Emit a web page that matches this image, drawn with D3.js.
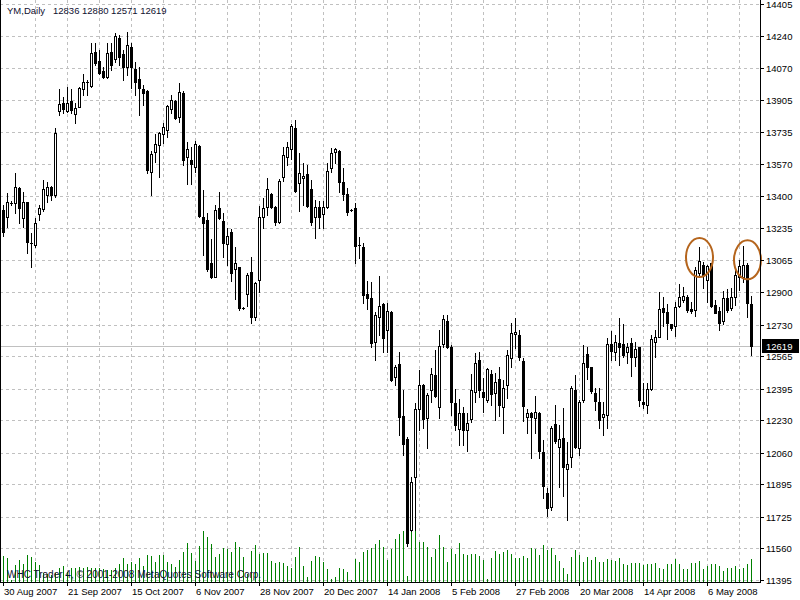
<!DOCTYPE html>
<html>
<head>
<meta charset="utf-8">
<script src="https://cdn.jsdelivr.net/npm/d3@7"></script>
<style>
html,body{margin:0;padding:0;background:#fff;}
svg{display:block;}
text{font-family:"Liberation Sans",Arial,sans-serif;}
</style>
</head>
<body>
<svg id="chart" width="800" height="600"></svg>
<script>
// ---------- DATA ----------
const symbol = "YM,Daily";
const lastBar = [12836, 12880, 12571, 12619];

const opens = [13329,13292,13367,13365,13444,13287,13370,13156,13146,13308,
13334,13407,13449,13407,13846,13888,13846,13898,13830,13867,
13961,13998,13977,14154,14107,14055,14024,14154,14118,14227,
14144,14076,14180,14065,14013,13961,13950,13527,13632,13668,
13726,13747,13856,13898,13815,13940,13606,13590,13553,13663,
13292,13276,13052,12978,13339,13271,13151,13214,13020,13031,
12816,12890,13005,12769,12963,13292,13344,13412,13344,13266,
13501,13606,13647,13757,13470,13496,13517,13438,13292,13344,
13308,13344,13548,13632,13637,13475,13412,13329,13339,13146,
13135,12890,12869,12639,12769,12837,12702,12796,12456,12524,
12252,12132,11656,11933,12289,12414,12242,12388,12466,12299,
12629,12749,12613,12320,12184,12268,12179,12236,12378,12545,
12378,12336,12472,12372,12446,12299,12414,12555,12681,12675,
12540,12247,12268,12242,12268,12064,11850,11777,12210,12090,
12137,11975,12038,12388,12085,12336,12576,12508,12372,12325,
12247,12257,12629,12587,12634,12629,12587,12634,12560,12613,
12325,12310,12393,12639,12665,12816,12796,12733,12722,12827,
12859,12874,12811,12806,12999,13041,12963,13052,12832,12801,
12749,12869,12816,12874,12978,12978,13041,12836];

const highs = [13355,13417,13375,13522,13449,13423,13372,13208,13287,13355,
13485,13475,13454,13757,13961,13919,13971,13961,13888,13971,
14039,14008,14201,14201,14165,14076,14201,14201,14254,14243,
14165,14259,14201,14102,14076,13982,13956,13637,13726,13736,
13783,13877,13930,13903,13992,13950,13684,13658,13689,13668,
13433,13313,13177,13355,13423,13313,13235,13229,13135,13033,
12822,12999,13083,12952,13350,13391,13496,13417,13350,13491,
13658,13684,13778,13799,13626,13574,13564,13485,13381,13376,
13376,13574,13653,13653,13642,13548,13444,13334,13365,13187,
13156,12958,12952,12796,12984,12843,12843,12801,12519,12587,
12388,12142,11933,12320,12493,12419,12372,12503,12597,12702,
12780,12780,12623,12393,12341,12299,12268,12472,12581,12587,
12451,12503,12493,12477,12508,12440,12597,12738,12764,12702,
12555,12289,12273,12357,12273,12127,11876,12200,12310,12205,
12294,12116,12409,12466,12336,12623,12613,12510,12398,12398,
12325,12660,12696,12675,12764,12733,12634,12660,12639,12615,
12425,12425,12675,12702,12900,12874,12837,12735,12848,12942,
12926,12884,12848,13031,13135,13057,13041,13054,12859,12822,
12905,12916,12921,13031,13067,13140,13052,12880];

const lows = [13193,13240,13355,13313,13261,13240,13104,13031,13135,13276,
13323,13370,13381,13396,13825,13835,13841,13835,13783,13865,
13930,13930,13971,14086,14040,14020,14018,14060,14102,14086,
14008,14034,13966,13930,13825,13877,13522,13407,13579,13501,
13679,13710,13835,13804,13788,13564,13464,13464,13527,13292,
13093,13010,12973,12976,13282,13083,13041,12958,12863,12806,
12810,12827,12738,12754,12900,13235,13302,13339,13250,13261,
13480,13564,13595,13423,13323,13355,13344,13250,13182,13235,
13235,13339,13527,13574,13423,13381,13302,13323,13052,13078,
12843,12811,12613,12545,12675,12587,12587,12435,12414,12153,
12048,11573,11651,11656,12179,12189,12085,12325,12351,12242,
12613,12607,12257,12179,12101,12101,12069,12221,12325,12351,
12273,12325,12310,12231,12252,12163,12346,12508,12607,12545,
12226,12163,12033,12163,12033,11824,11730,11761,12111,11881,
11834,11709,11986,12085,12048,12325,12446,12372,12284,12189,
12153,12189,12545,12545,12519,12560,12529,12461,12513,12304,
12294,12268,12388,12560,12663,12722,12655,12702,12670,12822,
12848,12796,12790,12775,12978,12921,12848,12822,12788,12702,
12733,12796,12806,12832,12911,12952,12769,12571];

const closes = [13214,13370,13366,13449,13339,13370,13161,13154,13261,13339,
13438,13449,13407,13731,13882,13856,13888,13851,13862,13966,
13998,13996,14149,14097,14045,14024,14149,14086,14238,14128,
14076,14191,14076,13998,13966,13940,13538,13621,13673,13731,
13762,13872,13903,13809,13945,13590,13647,13569,13673,13297,
13261,13020,12978,13329,13287,13156,13193,12999,13052,12816,
12814,12989,12769,12947,13292,13339,13438,13344,13266,13480,
13616,13658,13768,13428,13522,13506,13350,13266,13344,13292,
13344,13532,13626,13647,13475,13412,13318,13327,13140,13144,
12884,12869,12634,12780,12827,12660,12801,12440,12508,12247,
12106,11588,11907,12289,12414,12236,12362,12472,12357,12618,
12759,12613,12325,12205,12268,12179,12215,12388,12529,12388,
12351,12498,12367,12430,12310,12398,12571,12686,12691,12560,
12304,12268,12247,12273,12069,11886,11771,12189,12121,12132,
11986,12001,12398,12090,12325,12529,12508,12383,12331,12231,
12263,12629,12592,12639,12613,12571,12613,12560,12602,12336,
12315,12393,12655,12665,12811,12796,12738,12712,12822,12874,
12879,12806,12801,13015,13062,12989,13036,12827,12790,12738,
12869,12806,12874,12989,13036,13041,12843,12619];

const volumes = [26,24,2,17,22,18,27,25,20,17,
9,8,7,9,14,16,10,14,14,15,
14,15,14,14,14,13,12,12,14,18,
24,18,20,18,24,16,27,26,20,27,
27,20,18,15,22,30,39,29,21,36,
51,45,38,25,28,34,33,30,40,35,
25,8,31,37,28,29,29,21,19,20,
19,16,14,25,35,16,5,21,26,25,
20,13,3,5,14,13,10,2,23,20,
30,32,34,38,42,35,22,33,43,48,
51,6,71,61,40,40,35,25,33,47,
35,20,33,28,39,28,27,28,28,26,
22,3,24,31,28,30,32,28,24,24,
26,24,34,33,27,37,32,34,27,21,
14,8,25,32,27,20,25,22,25,20,
20,23,22,21,24,18,17,19,19,19,
17,18,18,19,14,13,18,18,23,18,
13,13,19,19,21,13,16,18,18,16,
11,14,14,16,13,14,18,23];

const priceTicks = [14405,14240,14070,13905,13735,13570,13400,13235,13065,12900,
12730,12565,12395,12230,12060,11895,11725,11560,11395];

const dateLabels = ["30 Aug 2007","21 Sep 2007","15 Oct 2007","6 Nov 2007","28 Nov 2007",
"20 Dec 2007","14 Jan 2008","5 Feb 2008","27 Feb 2008","20 Mar 2008","14 Apr 2008","6 May 2008"];
const dateLabelBars = [0,16,32,48,64,80,96,112,128,144,160,176];

// circled highs (bar index, price at centre)
const marks = [{bar:174, price:13080},{bar:186, price:13068}];

// ---------- DRAW ----------
const W = 800, H = 600;
const plotRight = 760, plotBottom = 582;
const svg = d3.select("#chart");
svg.append("rect").attr("width",W).attr("height",H).attr("fill","#fff");

const n = opens.length;
const x = d3.scaleLinear().domain([0, n-1]).range([3, 3 + 4*(n-1)]);
const y = d3.scaleLinear().domain([11395, 14405]).range([580, 4]);
const vol = d3.scaleLinear().domain([0, 100]).range([0, 100]);
const px = i => Math.round(x(i));
const py = v => Math.round(y(v));

const gridColor = "#c0c0c0";
// vertical grid
const g = svg.append("g").attr("shape-rendering","crispEdges");
const vgrid = d3.range(1, 24).map(k => 3 + 32*k);
g.selectAll("line.vg").data(vgrid).join("line")
  .attr("x1", d=>d+0.5).attr("x2", d=>d+0.5)
  .attr("y1", 0).attr("y2", plotBottom)
  .attr("stroke", gridColor).attr("stroke-dasharray","3,3");
// horizontal grid
g.selectAll("line.hg").data(priceTicks).join("line")
  .attr("x1", 0).attr("x2", plotRight)
  .attr("y1", d=>py(d)+0.5).attr("y2", d=>py(d)+0.5)
  .attr("stroke", gridColor).attr("stroke-dasharray","3,3");

// current price line
svg.append("line").attr("x1",0).attr("x2",plotRight)
  .attr("y1", py(lastBar[3])+0.5).attr("y2", py(lastBar[3])+0.5)
  .attr("stroke","#c0c0c0").attr("shape-rendering","crispEdges");

// volumes
svg.append("g").attr("shape-rendering","crispEdges")
  .selectAll("line").data(volumes).join("line")
  .attr("x1",(d,i)=>px(i)+0.5).attr("x2",(d,i)=>px(i)+0.5)
  .attr("y1", 582).attr("y2", d=>582 - Math.round(vol(d)))
  .attr("stroke","#008000");

// copyright text
svg.append("text").attr("x",7).attr("y",578)
  .attr("font-size","10px").attr("fill","#101030")
  .text("WHC Trader 4, \u00A9 2001-2008 MetaQuotes Software Corp.");

// candles
const idx = d3.range(n);
const cg = svg.append("g").attr("shape-rendering","crispEdges");
cg.selectAll("line.wick").data(idx).join("line")
  .attr("x1", i=>px(i)+0.5).attr("x2", i=>px(i)+0.5)
  .attr("y1", i=>py(highs[i])).attr("y2", i=>py(lows[i])+1)
  .attr("stroke","#000");
idx.forEach(i => {
  const o = opens[i], c = closes[i];
  const top = py(Math.max(o,c)), bot = py(Math.min(o,c));
  const cx = px(i);
  if (bot - top < 1) {
    cg.append("line").attr("x1", cx-1).attr("x2", cx+2)
      .attr("y1", top+0.5).attr("y2", top+0.5).attr("stroke","#000");
  } else {
    cg.append("rect").attr("x", cx-0.5).attr("y", top+0.5)
      .attr("width", 2).attr("height", bot-top)
      .attr("fill", c >= o ? "#fff" : "#000").attr("stroke","#000");
  }
});

// circled marks
svg.append("g").selectAll("ellipse").data(marks).join("ellipse")
  .attr("cx", d=>px(d.bar)+0.5).attr("cy", d=>y(d.price))
  .attr("rx", 13.5).attr("ry", 19.5)
  .attr("fill","none").attr("stroke","#b5651d").attr("stroke-width",2);

// frame
const fg = svg.append("g").attr("shape-rendering","crispEdges");
fg.append("line").attr("x1",0.5).attr("x2",0.5).attr("y1",0).attr("y2",plotBottom+0.5).attr("stroke","#000");
fg.append("line").attr("x1",plotRight+0.5).attr("x2",plotRight+0.5).attr("y1",0).attr("y2",plotBottom+0.5).attr("stroke","#000");
fg.append("line").attr("x1",0).attr("x2",plotRight+1).attr("y1",plotBottom+0.5).attr("y2",plotBottom+0.5).attr("stroke","#000");

// right axis
const ra = svg.append("g");
ra.selectAll("line").data(priceTicks).join("line")
  .attr("x1", plotRight).attr("x2", plotRight+4)
  .attr("y1", d=>py(d)+0.5).attr("y2", d=>py(d)+0.5).attr("stroke","#000")
  .attr("shape-rendering","crispEdges");
ra.selectAll("text").data(priceTicks).join("text")
  .attr("x", plotRight+6).attr("y", d=>py(d)+4)
  .attr("font-size","9.5px").attr("fill","#000")
  .text(d=>d);

// current price label
const ly = py(lastBar[3]);
svg.append("rect").attr("x", plotRight+2).attr("y", ly-7).attr("width", 37).attr("height", 14).attr("fill","#000");
svg.append("text").attr("x", plotRight+6).attr("y", ly+4)
  .attr("font-size","9.5px").attr("fill","#fff").text(lastBar[3]);

// bottom axis
const ba = svg.append("g");
ba.selectAll("line").data(dateLabelBars).join("line")
  .attr("x1", i=>px(i)+0.5).attr("x2", i=>px(i)+0.5)
  .attr("y1", plotBottom).attr("y2", plotBottom+4).attr("stroke","#000")
  .attr("shape-rendering","crispEdges");
ba.selectAll("text").data(dateLabelBars).join("text")
  .attr("x", i=>px(i)+1).attr("y", 595)
  .attr("font-size","9.5px").attr("fill","#000")
  .text((d,k)=>dateLabels[k]);

// header
svg.append("text").attr("x",7).attr("y",14).attr("font-size","9.5px").attr("fill","#101030").text(symbol);
svg.append("text").attr("x",53).attr("y",14).attr("font-size","9.5px").attr("fill","#101030").text(lastBar.join(" "));
</script>
</body>
</html>
